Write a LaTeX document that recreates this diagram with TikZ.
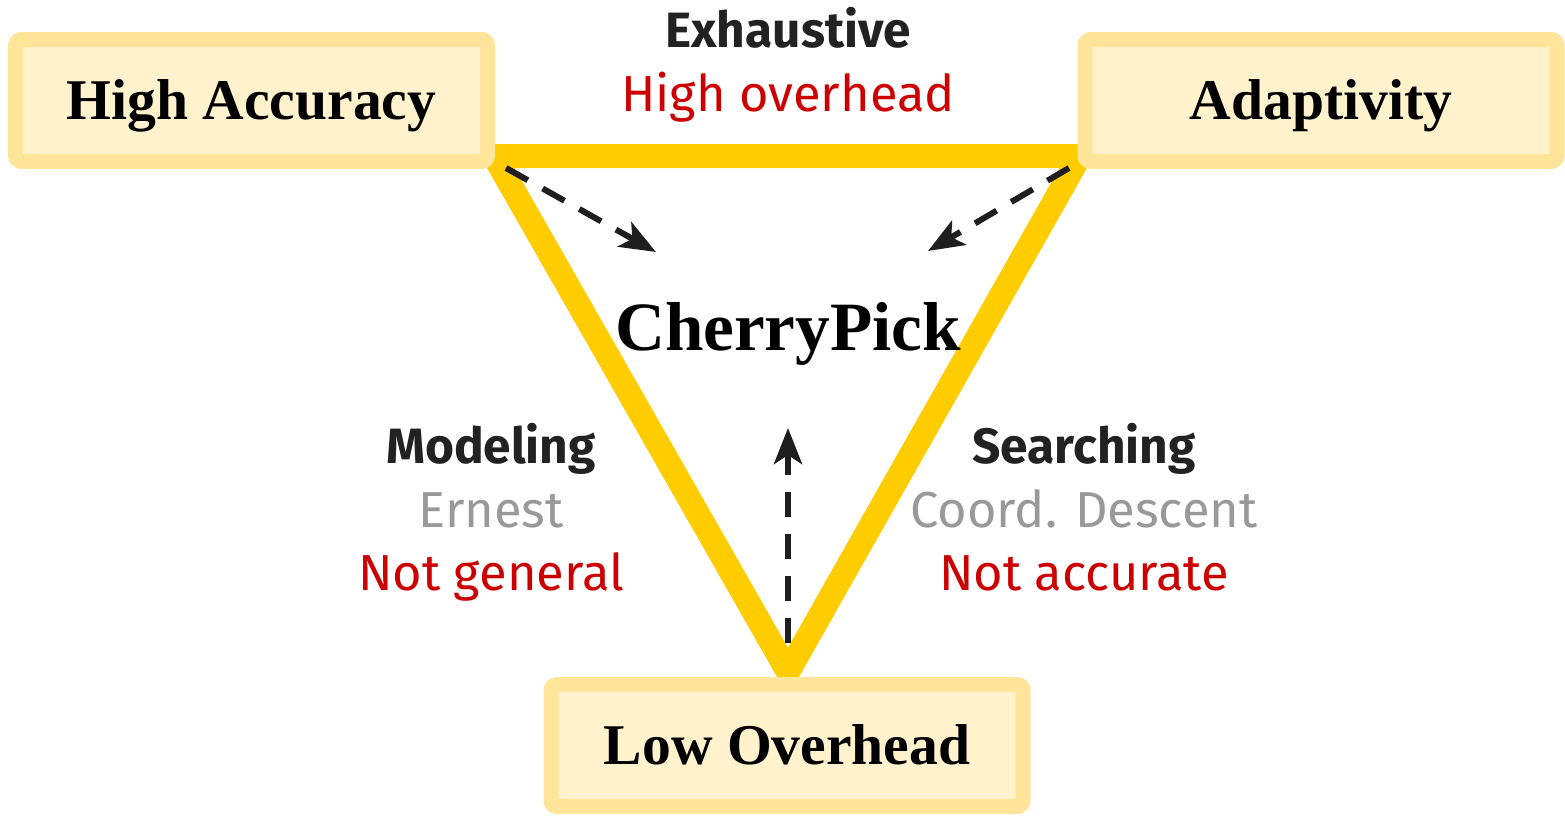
\documentclass[tikz,border=0pt]{standalone}
\usepackage{fontspec}
\setmainfont{Liberation Serif}
\setsansfont{Fira Sans}
\usetikzlibrary{arrows.meta}
\definecolor{triyellow}{HTML}{FFCC00}
\definecolor{boxborder}{HTML}{FFE599}
\definecolor{boxfill}{HTML}{FFF2CC}
\definecolor{txtred}{HTML}{CC0000}
\definecolor{txtgray}{HTML}{999999}
\definecolor{txtdark}{HTML}{222222}
\definecolor{arrdark}{HTML}{1E1E1E}
\tikzset{
  corner/.style={draw=boxborder, fill=boxfill, line width=7.5pt, rounded corners=3pt,
    minimum width=236pt, minimum height=61pt, inner sep=0pt, outer sep=0pt,
    text height=19pt, text depth=0pt,
    font=\fontsize{28.8}{34}\selectfont\bfseries},
  edge/.style={draw=triyellow, line width=12pt, line join=miter},
  dasharrow/.style={draw=arrdark, line width=3pt, dash pattern=on 12.5pt off 8.5pt,
    -{Stealth[length=18pt,width=14pt,inset=4.5pt]}},
  headtxt/.style={font=\sffamily\bfseries\fontsize{24.8}{30}\selectfont, text=txtdark, inner sep=0pt, anchor=base},
  redtxt/.style={font=\sffamily\fontsize{25.3}{30}\selectfont, text=txtred, inner sep=0pt, anchor=base},
  graytxt/.style={font=\sffamily\fontsize{25.3}{30}\selectfont, text=txtgray, inner sep=0pt, anchor=base},
  centertxt/.style={font=\fontsize{34.6}{40}\selectfont\bfseries, inner sep=0pt, anchor=base}
}
\begin{document}
\begin{tikzpicture}[x=0.5pt, y=-0.5pt]
\useasboundingbox (0,0) rectangle (1565,815);
\coordinate (A) at (494,156);
\coordinate (B) at (1080,156);
\coordinate (C) at (788,672);
\draw[edge] (A) -- (B) -- (C) -- cycle;
\node[corner] (ha) at (251.5,100.5) {High Accuracy};
\node[corner] (ad) at (1321,100.5) {Adaptivity};
\node[corner] (lo) at (787,745.5) {Low Overhead};
\node[centertxt] (cp) at (788,350) {CherryPick};
\coordinate (a1s) at (506,168);
\coordinate (a1e) at (656,252);
\coordinate (a2s) at (1069,168);
\coordinate (a2e) at (928,251);
\coordinate (a3s) at (788,643);
\coordinate (a3e) at (788,428);
\draw[dasharrow] (a1s) -- (a1e);
\draw[dasharrow] (a2s) -- (a2e);
\draw[dasharrow] (a3s) -- (a3e);
\node[headtxt] (ex) at (788,47) {Exhaustive};
\node[redtxt] (ho) at (788,111) {High overhead};
\node[headtxt] (mo) at (491,463) {Modeling};
\node[graytxt] (er) at (491,527) {Ernest};
\node[redtxt] (ng) at (491,590) {Not general};
\node[headtxt] (se) at (1084,463) {Searching};
\node[graytxt] (cd) at (1084,527) {Coord. Descent};
\node[redtxt] (na) at (1084,590) {Not accurate};
\end{tikzpicture}
\end{document}
